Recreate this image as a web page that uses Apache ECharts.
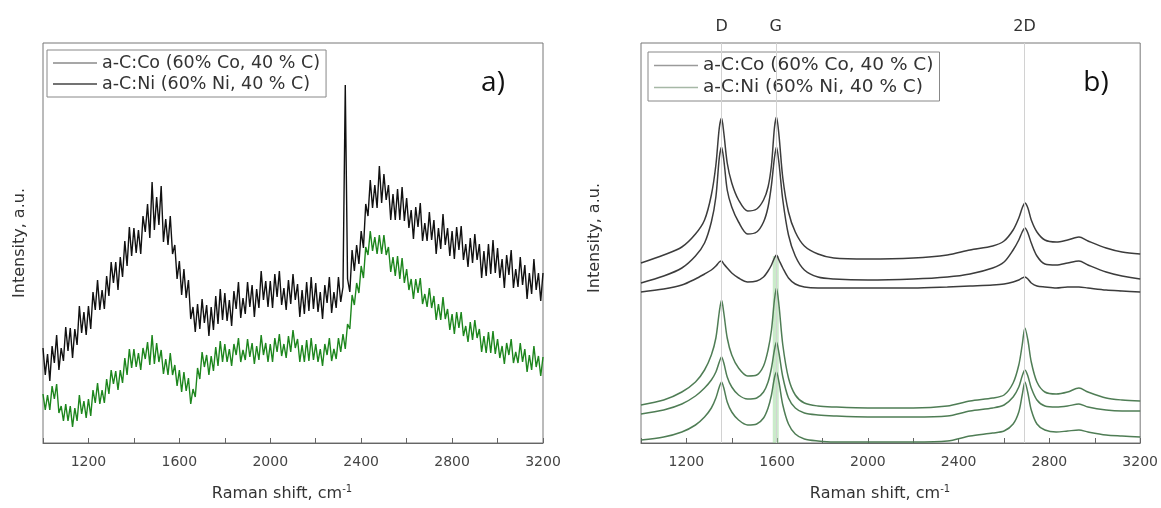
<!DOCTYPE html>
<html><head><meta charset="utf-8">
<script src="https://cdn.jsdelivr.net/npm/echarts@6/dist/echarts.min.js"></script>
<style>html,body{margin:0;padding:0;background:#fff}#c{width:1161px;height:508px}</style>
</head><body><div id="c"></div>
<script>
// ---------- Panel a) : noisy spectra, x = 1000..3200 step 10 cm-1 ----------
const ramanStartA = 1000, ramanStepA = 10;
const niA = [
  95,68,89,62,97,80,108,73,95,82,116,92,115,85,114,98,137,110,131,108,
  137,114,151,133,163,133,153,134,167,147,181,160,181,153,186,166,202,177,216,187,
  215,190,213,189,227,211,239,205,261,213,246,218,257,201,224,198,227,189,198,164,
  182,148,174,145,163,124,136,111,139,114,144,120,138,107,136,113,147,119,154,123,
  150,122,143,117,152,134,161,125,145,129,161,136,158,126,154,135,172,143,162,136,
  162,135,169,146,172,138,155,133,163,139,169,143,159,126,153,129,161,132,166,134,
  160,131,151,124,158,140,166,130,151,135,166,141,156,358,164,151,193,172,198,179,
  212,195,239,227,263,235,258,235,277,240,269,243,258,223,249,223,254,223,256,222,
  245,215,233,204,236,216,240,202,220,202,231,203,223,189,215,194,229,198,215,187,
  212,184,216,193,217,183,199,176,205,180,209,183,199,165,192,167,199,169,203,170,
  195,165,184,155,188,168,193,155,174,156,186,158,178,144,170,149,184,153,170,142,170];
const coA = [
  49,33,48,33,57,44,59,30,37,22,39,22,37,16,35,22,48,29,42,25,
  44,27,53,40,60,39,53,40,64,49,73,59,72,53,73,60,85,68,94,75,
  94,76,90,73,95,84,101,78,108,79,100,81,93,69,84,68,90,68,78,57,
  73,51,71,52,65,39,54,46,75,64,91,76,88,68,87,72,96,77,102,81,
  99,81,94,77,99,88,105,81,93,83,104,86,100,79,97,83,108,88,100,81,
  99,81,105,91,109,87,99,85,107,91,113,95,104,81,98,81,103,82,105,83,
  99,81,94,77,99,88,105,82,94,84,105,91,109,94,119,114,148,138,160,150,
  177,165,196,188,212,192,206,189,208,189,208,188,196,171,186,167,187,164,185,160,
  174,153,164,144,164,150,165,139,149,136,155,135,147,123,139,123,146,124,134,113,
  129,109,131,115,131,107,117,101,121,103,123,105,114,91,107,90,111,90,112,89,
  104,85,97,79,100,88,104,80,91,80,100,81,94,71,88,73,97,76,87,67,86];

// ---------- Panel b) : stacked spectra ----------
const ramanB = [1000,1100,1180,1240,1280,1310,1330,1345,1355,1365,1380,1400,1430,1470,1510,1540,
  1560,1575,1588,1597,1608,1625,1650,1680,1720,1780,1850,2000,2200,2350,2450,2550,
  2600,2640,2665,2680,2692,2705,2720,2745,2780,2830,2880,2930,2970,3050,3120,3200];
const coB1 = [180,188,196,209,223,248,278,315,325,310,280,260,243,232,234,243,
  256,278,315,326,308,265,231,211,197,189,185,184,185,188,193,197,
  202,213,225,235,240,235,223,211,203,201,203,206,202,195,191,189];
const coB2 = [160,167,175,187,200,221,246,285,296,283,253,236,221,209,211,221,
  236,258,285,296,280,243,208,187,173,166,164,163,164,166,169,175,
  181,193,203,211,215,210,200,187,179,178,180,182,178,171,167,164];
const coB3 = [151,154,158,164,169,173,177,181,182,179,175,170,165,161,162,166,
  172,178,185,188,183,175,165,159,156,155,155,155,155,156,157,158,
  159,161,163,165,166,164,160,157,156,155,156,156,155,153,152,151];
const niB1 = [38,43,51,61,73,88,105,131,143,130,105,88,75,67,68,77,
  93,113,143,155,138,98,65,48,40,37,36,35,35,37,42,45,
  48,60,78,98,115,103,81,61,51,49,51,55,51,45,43,42];
const niB2 = [29,33,39,47,55,63,71,81,86,80,66,56,48,44,45,51,
  61,75,93,101,90,66,45,35,30,28,27,26,26,27,32,35,
  38,46,56,67,73,67,55,43,37,36,37,39,36,33,32,32];
const niB3 = [3,6,11,18,26,35,45,56,61,55,41,31,23,18,19,25,
  35,48,65,71,61,38,19,9,4,2,1,1,1,2,7,10,
  12,19,31,48,61,50,33,19,13,11,12,13,11,8,7,6];
const peakNames = ['D','G','2D'];
const peakPositions = [1355, 1594, 2690];
const gBandX = 1594, gBandRange = [0, 187];

const nameCo = 'a-C:Co (60% Co, 40 % C)';
const nameNi = 'a-C:Ni (60% Ni, 40 % C)';

const pairsA = arr => arr.map((v,i)=>[ramanStartA + i*ramanStepA, v]);
const pairsB = arr => arr.map((v,i)=>[ramanB[i], v]);

const FONT = 'DejaVu Sans';
const chart = echarts.init(document.getElementById('c'), null, {renderer:'canvas'});

function xAxisFor(gi){
  return {
    gridIndex: gi, type:'value', min:1000, max:3200, interval:200,
    axisLine:{show:true, lineStyle:{color:'#666', width:1}},
    axisTick:{show:true, inside:true, length:5, lineStyle:{color:'#666'}},
    axisLabel:{color:'#444', fontSize:14, fontFamily:FONT, margin:12,
      formatter: v => (v>=1200 && (v-1200)%400===0) ? String(v) : ''},
    splitLine:{show:false}
  };
}
function yAxisFor(gi){
  return {gridIndex:gi, type:'value', min:0, max:400,
    axisLine:{show:false}, axisTick:{show:false}, axisLabel:{show:false}, splitLine:{show:false}};
}
function legendFor(left, top, size, coColor, niColor){
  return {
    orient:'vertical', left:left, top:top,
    backgroundColor:'#fff', borderColor:'#888', borderWidth:1,
    padding:[4,6,4,6], itemGap:3, itemWidth:44, itemHeight:1.3, itemTextGap:5,
    icon:'rect', selectedMode:false,
    textStyle:{fontFamily:FONT, fontSize:size, color:'#333'},
    data:[{name:nameCo, itemStyle:{color:coColor}}, {name:nameNi, itemStyle:{color:niColor}}]
  };
}
const lineS = (name, data, color, w, xi, z, smooth) => ({
  name, type:'line', xAxisIndex:xi, yAxisIndex:xi, data, symbol:'none', showSymbol:false,
  smooth: smooth || false,
  lineStyle:{color, width:w}, itemStyle:{color}, z: z||2, animation:false
});

const blackB = '#3c3c3c', greenB = '#4f7d55';
const series = [
  lineS(nameNi, pairsA(niA), '#111111', 1.4, 0, 2),
  lineS(nameCo, pairsA(coA), '#1d861d', 1.4, 0, 3),
  lineS('G band', [[gBandX, gBandRange[0]], [gBandX, gBandRange[1]]], 'rgba(150,215,150,0.5)', 6, 1, 1),
  Object.assign(lineS(nameCo, pairsB(coB1), blackB, 1.5, 1, 3, 0.3), {
    markLine:{silent:true, symbol:['none','none'], animation:false,
      lineStyle:{color:'#d2d2d2', width:1, type:'solid'},
      label:{show:true, position:'end', formatter: p => p.name, color:'#333', fontSize:16, fontFamily:FONT, distance:8},
      data: peakPositions.map((x,i)=>({xAxis:x, name:peakNames[i]}))}
  }),
  lineS(nameCo, pairsB(coB2), blackB, 1.5, 1, 3, 0.3),
  lineS(nameCo, pairsB(coB3), blackB, 1.5, 1, 3, 0.3),
  lineS(nameNi, pairsB(niB1), greenB, 1.5, 1, 3, 0.3),
  lineS(nameNi, pairsB(niB2), greenB, 1.5, 1, 3, 0.3),
  lineS(nameNi, pairsB(niB3), greenB, 1.5, 1, 3, 0.3)
];

const xTitle = (cx) => ({
  type:'text', x:cx, y:494,
  style:{text:'Raman shift, cm{s|-1}', align:'center', verticalAlign:'middle',
    fontFamily:FONT, fontSize:16, fill:'#333',
    rich:{s:{fontSize:10, fontFamily:FONT, fill:'#333', padding:[0,0,10,0]}}}
});
const yTitle = (cx, cy) => ({
  type:'text', x:cx, y:cy, rotation:Math.PI/2,
  style:{text:'Intensity, a.u.', align:'center', verticalAlign:'middle', fontFamily:FONT, fontSize:16, fill:'#333'}
});
const panelTag = (cx, t) => ({
  type:'text', x:cx, y:83, z:10,
  style:{text:t, align:'center', verticalAlign:'middle', fontFamily:'Open Sans', fontSize:28, fill:'#111'}
});

chart.setOption({
  animation:false,
  backgroundColor:'#fff',
  grid:[
    {left:43, top:43, width:500, height:400, show:true, borderColor:'#777', borderWidth:1, backgroundColor:'transparent'},
    {left:641, top:43, width:500, height:400, show:true, borderColor:'#777', borderWidth:1, backgroundColor:'transparent'}
  ],
  xAxis:[xAxisFor(0), xAxisFor(1)],
  yAxis:[yAxisFor(0), yAxisFor(1)],
  legend:[
    legendFor(47, 50, 17.5, '#8a8a8a', '#444'),
    legendFor(648, 52, 18.5, '#9a9a9a', '#a6b8a6')
  ],
  graphic:[
    xTitle(282), xTitle(880),
    yTitle(20, 243), yTitle(595, 238),
    panelTag(493, 'a)'), panelTag(1096, 'b)')
  ],
  series
});
</script></body></html>
